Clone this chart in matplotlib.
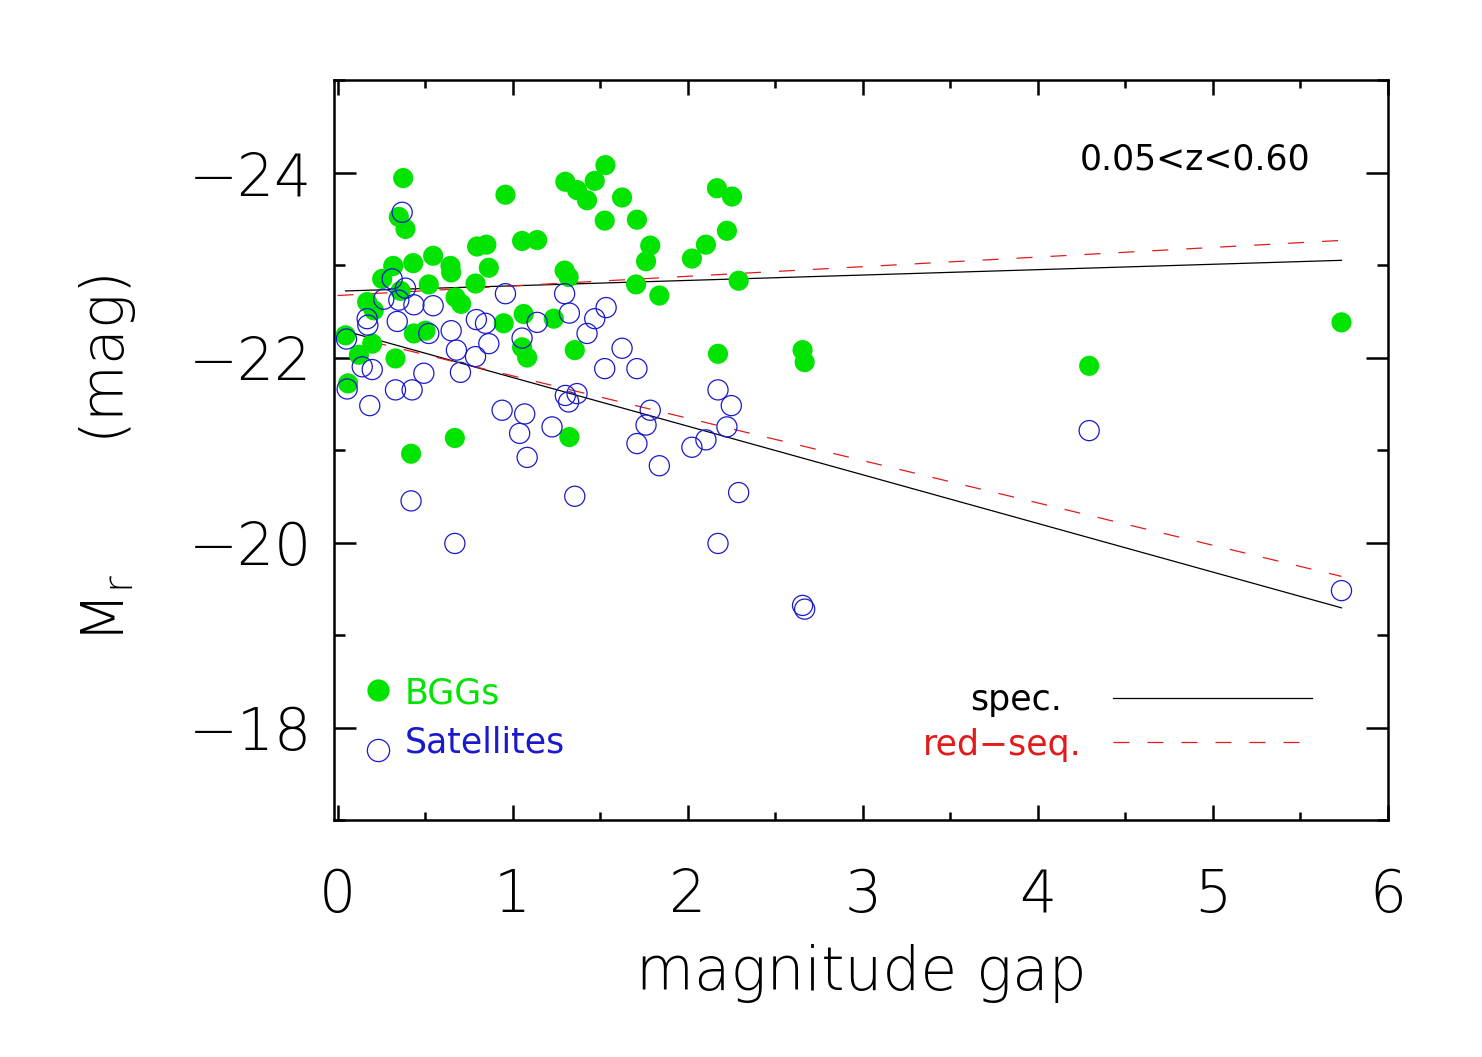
import numpy as np
import matplotlib
matplotlib.use("Agg")
import matplotlib.pyplot as plt
from matplotlib.ticker import MultipleLocator
from matplotlib import font_manager as fm

# pick a thin sans face if one is installed, else fall back to DejaVu Sans
FAMILY, WEIGHT = 'DejaVu Sans', 'normal'
_cands = ['DejaVu Sans', 'Open Sans', 'Noto Sans', 'Roboto', 'Inter', 'Lato']
_found = {}
for f in fm.fontManager.ttflist:
    w = f.weight if isinstance(f.weight, int) else fm.weight_dict.get(f.weight, 400)
    if f.name in _cands and f.style == 'normal' and 200 <= w <= 300 and f.stretch == 'normal':
        _found.setdefault(f.name, w)
for c in _cands:
    if c in _found:
        FAMILY, WEIGHT = c, _found[c]
        break
plt.rcParams['font.family'] = [FAMILY, 'DejaVu Sans']
plt.rcParams['font.weight'] = WEIGHT
plt.rcParams['axes.labelweight'] = WEIGHT
plt.rcParams['mathtext.fontset'] = 'custom'
plt.rcParams['mathtext.rm'] = FAMILY

# ---- data ----
bgg_gap = [0.375, 0.959, 0.350, 0.388, 0.797, 0.850, 1.054, 1.140, 0.318, 0.432,
           0.546, 0.645, 0.649, 0.864, 0.255, 0.521, 0.788, 0.360, 0.674, 0.706,
           0.169, 0.207, 1.063, 0.949, 1.235, 0.436, 0.502, 0.046, 0.198, 0.122,
           0.331, 1.054, 1.083, 0.060, 0.420, 0.670,
           1.530, 1.301, 1.469, 1.368, 1.425, 1.625, 1.526, 1.710, 2.167, 2.253,
           2.224, 1.786, 2.104, 1.762, 2.024, 1.297, 1.320, 1.705, 1.838, 2.291,
           1.355, 2.173, 1.324, 2.656, 2.668, 4.293, 5.734]
bgg_mr = [-23.94, -23.76, -23.52, -23.39, -23.20, -23.22, -23.26, -23.27, -22.99, -23.02,
          -23.10, -22.99, -22.92, -22.97, -22.85, -22.79, -22.80, -22.72, -22.65, -22.58,
          -22.60, -22.51, -22.47, -22.37, -22.42, -22.26, -22.29, -22.24, -22.15, -22.03,
          -21.99, -22.11, -22.00, -21.72, -20.96, -21.13,
          -24.08, -23.90, -23.91, -23.81, -23.70, -23.73, -23.48, -23.49, -23.83, -23.74,
          -23.37, -23.21, -23.22, -23.04, -23.07, -22.94, -22.87, -22.79, -22.67, -22.83,
          -22.08, -22.04, -21.14, -22.08, -21.95, -21.91, -22.38]

sat_gap = [0.369, 0.312, 0.388, 0.264, 0.350, 0.436, 0.546, 0.959, 0.169, 0.173,
           0.341, 0.793, 0.845, 1.140, 0.521, 0.649, 0.051, 0.864, 1.054, 0.679,
           0.788, 0.141, 0.198, 0.493, 0.702, 0.055, 0.331, 0.426, 0.184, 0.940,
           1.069, 1.040, 1.225, 1.083, 0.420, 0.670,
           1.297, 1.324, 1.534, 1.469, 1.425, 1.625, 1.526, 1.710, 1.301, 1.368,
           1.320, 1.786, 1.762, 1.710, 1.838, 2.173, 2.249, 2.224, 2.104, 2.024,
           1.355, 2.291, 2.173, 2.656, 2.668, 4.293, 5.734]
sat_mr = [-23.57, -22.85, -22.75, -22.63, -22.62, -22.57, -22.56, -22.69, -22.42, -22.35,
          -22.39, -22.41, -22.37, -22.38, -22.26, -22.29, -22.20, -22.15, -22.21, -22.08,
          -22.01, -21.90, -21.87, -21.83, -21.84, -21.66, -21.65, -21.65, -21.48, -21.43,
          -21.39, -21.18, -21.25, -20.92, -20.45, -19.99,
          -22.69, -22.48, -22.54, -22.42, -22.26, -22.10, -21.88, -21.88, -21.59, -21.61,
          -21.52, -21.43, -21.27, -21.07, -20.83, -21.65, -21.48, -21.25, -21.11, -21.03,
          -20.50, -20.54, -19.99, -19.32, -19.28, -21.21, -19.48]

# linear fits (intercept, slope)
spec_bgg = (-22.717, -0.0582)
red_bgg = (-22.67, -0.104)
spec_sat = (-22.31, 0.526)
red_sat = (-22.26, 0.458)

x_tick_labels = ['0', '1', '2', '3', '4', '5', '6']
y_tick_values = [-24, -22, -20, -18]

# ---- styling ----
GREEN = '#00e400'
BLUE = '#1a1acc'
RED = '#e21a1a'
FS = 42
SMALL = dict(fontsize=25, family=['DejaVu Sans'], fontweight='normal')

fig = plt.figure(figsize=(14.82, 10.57), dpi=100)
ax = fig.add_axes([0.2254, 0.2242, 0.7112, 0.7001])

xs_black = np.array([min(bgg_gap), max(bgg_gap)])
xs_red = np.array([0.0, max(bgg_gap)])
dash = (0, (12.8, 14.4))
ax.plot(xs_black, spec_bgg[0] + spec_bgg[1] * xs_black, color='black', lw=0.9, zorder=1)
ax.plot(xs_black, spec_sat[0] + spec_sat[1] * xs_black, color='black', lw=0.9, zorder=1)
ax.plot(xs_red, red_bgg[0] + red_bgg[1] * xs_red, color=RED, lw=0.9, ls=dash, zorder=1)
ax.plot(xs_red, red_sat[0] + red_sat[1] * xs_red, color=RED, lw=0.9, ls=dash, zorder=1)

ax.scatter(bgg_gap, bgg_mr, s=210, color=GREEN, edgecolors='none', zorder=2)
ax.scatter(sat_gap, sat_mr, s=210, facecolors='none', edgecolors=BLUE, linewidths=0.9, zorder=3)

ax.set_xlim(-0.02, 6.0)
ax.set_ylim(-17, -25)

ax.set_xticks(range(len(x_tick_labels)))
ax.set_xticklabels(x_tick_labels)
ax.xaxis.set_minor_locator(MultipleLocator(0.5))
ax.set_yticks(y_tick_values)
ax.yaxis.set_minor_locator(MultipleLocator(1))

for sp in ax.spines.values():
    sp.set_linewidth(1.8)

ax.tick_params(axis='x', which='major', direction='in', length=11, width=1.8,
               top=True, labelsize=FS, pad=34)
ax.tick_params(axis='x', which='minor', direction='in', length=5.5, width=1.8, top=True)
ax.tick_params(axis='y', which='major', direction='in', length=16, width=1.8,
               right=True, labelsize=FS, pad=16)
ax.tick_params(axis='y', which='minor', direction='in', length=8, width=1.8, right=True)

ax.set_xlabel('magnitude gap', fontsize=43, fontweight=WEIGHT, labelpad=14)
ax.set_ylabel(r'M$_{\rm r}$       (mag)', fontsize=FS, fontweight=WEIGHT)
ax.yaxis.set_label_coords(-0.186, 0.488)

ax.text(0.926, 0.892, '0.05<z<0.60', transform=ax.transAxes, ha='right', va='center',
        color='black', **SMALL)

# legend (drawn manually like the original)
ax.plot([0.0417], [0.1757], 'o', transform=ax.transAxes, ms=16, color=GREEN, mec='none', clip_on=False)
ax.plot([0.0417], [0.0946], 'o', transform=ax.transAxes, ms=16, mfc='none', mec=BLUE, mew=0.9, clip_on=False)
ax.text(0.0673, 0.1716, 'BGGs', transform=ax.transAxes, ha='left', va='center', color=GREEN, **SMALL)
ax.text(0.0673, 0.1054, 'Satellites', transform=ax.transAxes, ha='left', va='center', color=BLUE, **SMALL)
ax.text(0.6907, 0.162, 'spec.', transform=ax.transAxes, ha='right', va='center', color='black', **SMALL)
ax.text(0.7097, 0.101, 'red\u2212seq.', transform=ax.transAxes, ha='right', va='center', color=RED, **SMALL)
ax.plot([0.739, 0.928], [0.165, 0.165], transform=ax.transAxes, color='black', lw=0.9)
ax.plot([0.739, 0.921], [0.105, 0.105], transform=ax.transAxes, color=RED, lw=0.9, ls=dash)

fig.savefig('out.png', dpi=100)
